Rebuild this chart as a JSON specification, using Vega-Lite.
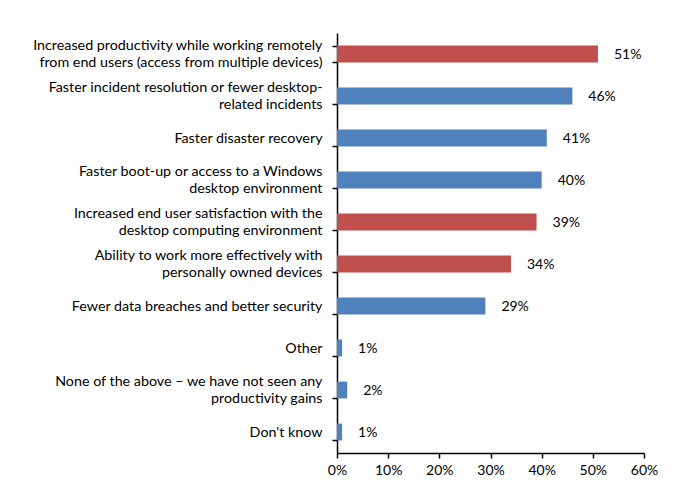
{
  "$schema": "https://vega.github.io/schema/vega-lite/v6.json",
  "autosize": "none",
  "width": 307,
  "height": 420,
  "padding": {"left": 337, "top": 33, "right": 45, "bottom": 40},
  "background": "white",
  "config": {
    "view": {"stroke": null},
    "font": "Lato"
  },
  "data": {
    "values": [
      {"label": "Increased productivity while working remotely|from end users (access from multiple devices)", "value": 0.51, "group": "red"},
      {"label": "Faster incident resolution or fewer desktop-|related incidents", "value": 0.46, "group": "blue"},
      {"label": "Faster disaster recovery", "value": 0.41, "group": "blue"},
      {"label": "Faster boot-up or access to a Windows|desktop environment", "value": 0.40, "group": "blue"},
      {"label": "Increased end user satisfaction with the|desktop computing environment", "value": 0.39, "group": "red"},
      {"label": "Ability to work more effectively with|personally owned devices", "value": 0.34, "group": "red"},
      {"label": "Fewer data breaches and better security", "value": 0.29, "group": "blue"},
      {"label": "Other", "value": 0.01, "group": "blue"},
      {"label": "None of the above – we have not seen any|productivity gains", "value": 0.02, "group": "blue"},
      {"label": "Don't know", "value": 0.01, "group": "blue"}
    ]
  },
  "encoding": {
    "y": {
      "field": "label",
      "type": "nominal",
      "sort": null,
      "scale": {"paddingInner": 0.6, "paddingOuter": 0.3},
      "axis": {
        "title": null,
        "labelExpr": "split(datum.label, '|')",
        "labelAlign": "right",
        "labelFontSize": 14.3,
        "labelColor": "black",
        "labelLineHeight": 17,
        "labelOffset": {"condition": {"test": "indexof(datum.label, '|') >= 0", "value": -8.5}, "value": 0},
        "labelPadding": 10,
        "labelLimit": 400,
        "tickSize": 5,
        "tickColor": "black",
        "tickWidth": 1.5,
        "domainColor": "black",
        "domainWidth": 1.5,
        "tickBand": "extent"
      }
    },
    "x": {
      "field": "value",
      "type": "quantitative",
      "scale": {"domain": [0, 0.6], "nice": false},
      "axis": {
        "title": null,
        "format": ".0%",
        "values": [0, 0.1, 0.2, 0.3, 0.4, 0.5, 0.6],
        "grid": false,
        "labelFontSize": 14,
        "labelColor": "black",
        "labelPadding": 5,
        "tickSize": 5,
        "tickColor": "black",
        "tickWidth": 1.5,
        "domainColor": "black",
        "domainWidth": 1.5,
        "labelFlush": false
      }
    }
  },
  "layer": [
    {
      "mark": {"type": "bar"},
      "encoding": {
        "color": {
          "field": "group",
          "type": "nominal",
          "scale": {"domain": ["red", "blue"], "range": ["#C0504D", "#4F81BD"]},
          "legend": null
        }
      }
    },
    {
      "mark": {"type": "text", "align": "left", "dx": 16, "dy": 1, "fontSize": 14, "color": "black"},
      "encoding": {
        "text": {"field": "value", "type": "quantitative", "format": ".0%"}
      }
    }
  ]
}
